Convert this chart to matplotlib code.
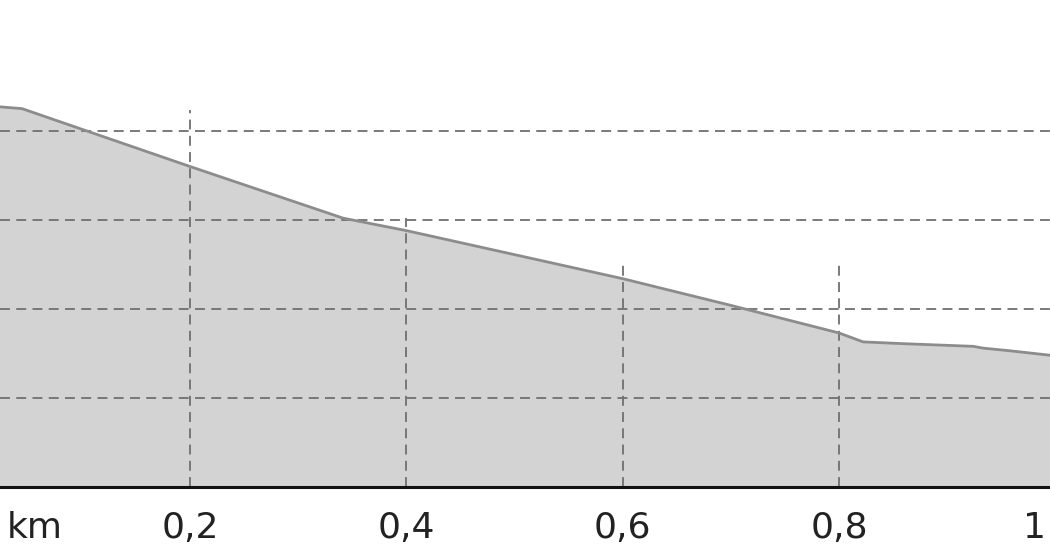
import numpy as np
import matplotlib
matplotlib.use('Agg')
import matplotlib.pyplot as plt
import matplotlib.transforms as mtransforms

plt.rcParams['font.family'] = 'DejaVu Sans'

# ---------------- profile data (km, m) ----------------
dist_km = [0.0, 0.0244, 0.0447, 0.2, 0.3415, 0.4, 0.6, 0.7, 0.8, 0.8222,
           0.859, 0.924, 0.933, 0.958, 0.995, 1.0]
elev_m = [322.8, 322.7, 322.5, 316.0, 310.2, 308.8, 303.4, 300.4, 297.3, 296.3,
          296.1, 295.8, 295.6, 295.3, 294.8, 294.6]

grid_y = [290, 300, 310, 320]
tick_km = [0.2, 0.4, 0.6, 0.8]
tick_labels = ['0,2', '0,4', '0,6', '0,8']
vgrid_top = [322.4, 310.2, 305.3, 305.3]

fig = plt.figure(figsize=(10.5, 5.6), dpi=100)
ax = fig.add_axes([0, 73 / 560, 1, 487 / 560])

ax.fill_between(dist_km, elev_m, 280, color='#d3d3d3', lw=0, zorder=1)
ax.plot(dist_km, elev_m, color='#8c8c8c', lw=2.0, zorder=4)

grid_kw = dict(color='#707070', lw=1.3, linestyle=(0, (5.5, 3.5)), zorder=3)
for g in grid_y:
    ax.axhline(g, **grid_kw)
for xk, top in zip(tick_km, vgrid_top):
    ax.vlines(xk, 280, top, **grid_kw)

ax.set_xlim(0.0244, 0.995)
ax.set_ylim(280, 334.7)

for s in ['top', 'left', 'right']:
    ax.spines[s].set_visible(False)
ax.spines['bottom'].set_linewidth(2.2)
ax.spines['bottom'].set_color('#111111')
ax.spines['bottom'].set_zorder(5)
ax.set_yticks([])
ax.set_xticks(tick_km)
ax.set_xticklabels(tick_labels)
ax.tick_params(axis='x', length=0, pad=17.5, labelsize=26, labelcolor='#222222')

# unit label at left, end label at right
trans = mtransforms.blended_transform_factory(ax.transAxes, ax.transAxes)
lab_y = -(528 - 487) / 487
ax.text(0.006, lab_y, 'km', transform=trans, ha='left', va='center',
        fontsize=26, color='#222222', clip_on=False)
ax.text(0.996, lab_y, '1', transform=trans, ha='right', va='center',
        fontsize=26, color='#222222', clip_on=False)

fig.savefig('out.png', dpi=100)
